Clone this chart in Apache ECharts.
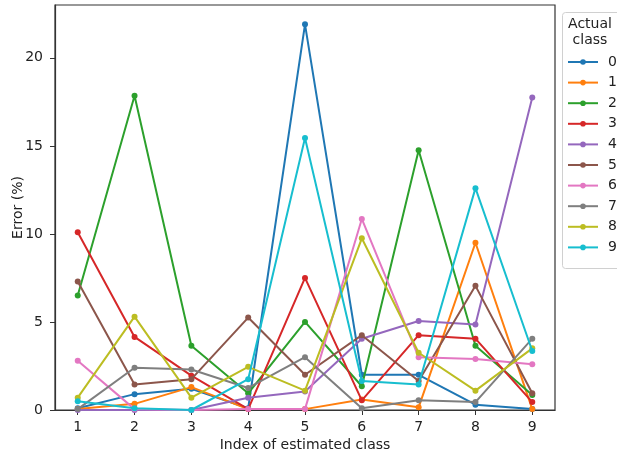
<!DOCTYPE html>
<html>
<head>
<meta charset="utf-8">
<script src="https://cdn.jsdelivr.net/npm/echarts@6/dist/echarts.min.js"></script>
<style>
  html, body { margin: 0; padding: 0; background: #fff; }
  #chart { width: 617px; height: 458px; }
</style>
</head>
<body>
<div id="chart"></div>
<script>
// Estimated class index (x axis)
const classIndex = [1, 2, 3, 4, 5, 6, 7, 8, 9];

// Error (%) per actual class, one array per class
const class0 = [0.1, 0.9, 1.2, 0.1, 21.9, 2.0, 2.0, 0.3, 0.05];
const class1 = [0.05, 0.35, 1.3, 0.05, 0.05, 0.6, 0.15, 9.5, 0.05];
const class2 = [6.5, 17.85, 3.65, 0.95, 5.0, 1.35, 14.75, 3.65, 0.85];
const class3 = [10.1, 4.15, 1.95, 0.05, 7.5, 0.55, 4.25, 4.05, 0.45];
const class4 = [0.0, 0.0, 0.0, 0.7, 1.05, 4.05, 5.05, 4.85, 17.75];
const class5 = [7.3, 1.45, 1.75, 5.25, 2.0, 4.25, 1.65, 7.05, 0.95];
const class6 = [2.8, 0.05, 0.0, 0.05, 0.05, 10.85, 3.0, 2.9, 2.6];
const class7 = [0.05, 2.4, 2.3, 1.25, 3.0, 0.1, 0.55, 0.45, 4.05];
const class8 = [0.7, 5.3, 0.7, 2.45, 1.1, 9.75, 3.25, 1.1, 3.5];
const class9 = [0.5, 0.1, 0.0, 1.75, 15.45, 1.65, 1.45, 12.6, 3.35];

const classNames = ['0', '1', '2', '3', '4', '5', '6', '7', '8', '9'];
const classValues = [class0, class1, class2, class3, class4, class5, class6, class7, class8, class9];
const palette = ['#1f77b4', '#ff7f0e', '#2ca02c', '#d62728', '#9467bd',
                 '#8c564b', '#e377c2', '#7f7f7f', '#bcbd22', '#17becf'];

const yTicks = [0, 5, 10, 15, 20];
const font = 'DejaVu Sans';

const series = classNames.map((name, i) => ({
  name: name,
  type: 'line',
  data: classIndex.map((x, j) => [x, classValues[i][j]]),
  symbol: 'circle',
  symbolSize: 6,
  lineStyle: { width: 2, color: palette[i] },
  itemStyle: { color: palette[i] },
  z: 2 + i,
  animation: false
}));

const chart = echarts.init(document.getElementById('chart'), null, { renderer: 'canvas' });
chart.setOption({
  animation: false,
  color: palette,
  textStyle: { fontFamily: font },
  grid: {
    left: 55, right: 62, top: 5, bottom: 48,
    containLabel: false,
    outerBoundsMode: 'none',
    show: true, borderColor: '#333', borderWidth: 1.2, backgroundColor: '#fff'
  },
  xAxis: {
    type: 'value',
    min: 0.6, max: 9.4,
    name: 'Index of estimated class',
    nameLocation: 'middle',
    nameGap: 28,
    nameMoveOverlap: false,
    nameTextStyle: { fontFamily: font, fontSize: 14, color: '#222' },
    axisLine: { show: true, lineStyle: { color: '#333', width: 1.2 } },
    axisTick: { show: true, length: 5, customValues: classIndex, lineStyle: { color: '#333' } },
    axisLabel: { customValues: classIndex, fontFamily: font, fontSize: 14, color: '#222', margin: 10 },
    splitLine: { show: false }
  },
  yAxis: {
    type: 'value',
    min: 0, max: 23.0,
    name: 'Error (%)',
    nameLocation: 'middle',
    nameGap: 30,
    nameMoveOverlap: false,
    nameRotate: 90,
    nameTextStyle: { fontFamily: font, fontSize: 14, color: '#222' },
    axisLine: { show: true, lineStyle: { color: '#333', width: 1.2 } },
    axisTick: { show: true, length: 5, customValues: yTicks, lineStyle: { color: '#333' } },
    axisLabel: { customValues: yTicks, fontFamily: font, fontSize: 14, color: '#222', margin: 12 },
    splitLine: { show: false }
  },
  legend: {
    orient: 'vertical',
    left: 567, top: 54,
    padding: 0,
    itemWidth: 30, itemHeight: 7,
    itemGap: 4.6,
    selectedMode: false,
    data: classNames,
    lineStyle: { width: 2 },
    textStyle: { fontFamily: font, fontSize: 14, color: '#222', lineHeight: 16, padding: [0, 0, 0, 5] }
  },
  graphic: [
    {
      type: 'rect',
      shape: { x: 562.5, y: 12.5, width: 60, height: 256, r: 3 },
      style: { fill: '#fff', stroke: '#d0d0d0', lineWidth: 1 },
      z: -1, silent: true
    },
    {
      type: 'text',
      x: 590, y: 16,
      style: {
        text: 'Actual\nclass', fontFamily: font, fontSize: 14, fill: '#222',
        align: 'center', lineHeight: 16
      },
      silent: true
    }
  ],
  series: series
});
</script>
</body>
</html>
